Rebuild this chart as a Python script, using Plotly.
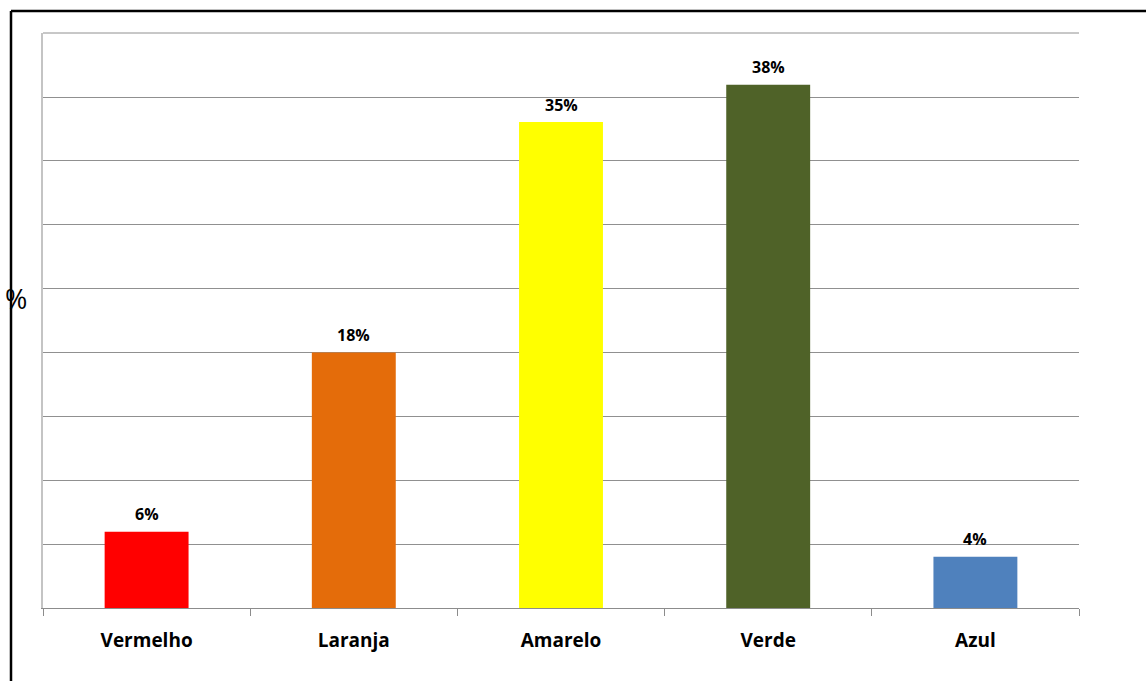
import plotly.graph_objects as go

categories = ["Vermelho", "Laranja", "Amarelo", "Verde", "Azul"]
values = [5.5, 18.4, 35.0, 37.7, 3.7]
value_labels = ["6%", "18%", "35%", "38%", "4%"]
bar_colors = ["#FF0000", "#E46C0A", "#FFFF00", "#4F6228", "#4F81BD"]

W, H = 1146, 681
L, R, T, B = 43, 67, 33, 73
plot_w = W - L - R
plot_h = H - T - B
GRID = "#909090"

fig = go.Figure()
fig.add_trace(go.Bar(
    x=categories,
    y=values,
    marker=dict(color=bar_colors, line=dict(width=0)),
    width=0.405,
    hoverinfo="x+y",
))

for c, v, lab in zip(categories, values, value_labels):
    fig.add_annotation(x=c, y=v, text=lab, showarrow=False,
                       xanchor="center", yanchor="middle", yshift=17.5,
                       font=dict(family="Open Sans", size=16, color="#000000", weight="bold"))

# top gridline (plotly skips the gridline lying exactly on the plot edge)
fig.add_shape(type="line", xref="paper", yref="paper", x0=0, x1=1, y0=1, y1=1,
              line=dict(color=GRID, width=1), layer="below")

# outer border (top and left lines, partially cropped frame)
bx = (11 - L) / plot_w
by = 1 + (T - 11) / plot_h
fig.add_shape(type="line", xref="paper", yref="paper", x0=bx, x1=2, y0=by, y1=by,
              line=dict(color="black", width=2.5))
fig.add_shape(type="line", xref="paper", yref="paper", x0=bx, x1=bx, y0=by, y1=-1,
              line=dict(color="black", width=2.5))

fig.add_annotation(text="%", xref="paper", yref="paper",
                   x=(16 - L) / plot_w, y=1 - (298 - T) / plot_h,
                   showarrow=False, font=dict(family="Open Sans", size=27, color="#000000"),
                   xanchor="center", yanchor="middle")

fig.update_layout(
    width=W, height=H,
    margin=dict(l=L, r=R, t=T, b=B, pad=0),
    paper_bgcolor="white",
    plot_bgcolor="white",
    showlegend=False,
    font=dict(family="Open Sans", color="#000000"),
    xaxis=dict(
        showgrid=False,
        showline=True, linecolor="#8c8c8c", linewidth=1,
        ticks="outside", tickson="boundaries", ticklen=7, tickcolor="#8c8c8c", tickwidth=1,
        tickfont=dict(family="Open Sans", size=19, color="#000000", weight="bold"),
        ticklabelstandoff=15,
    ),
    yaxis=dict(
        range=[0, 41.42],
        dtick=4.6,
        tick0=0,
        showgrid=True, gridcolor=GRID, gridwidth=1,
        showticklabels=False,
        zeroline=False,
        showline=True, linecolor="#c4c4c4", linewidth=1.5,
        ticks="",
    ),
)

fig.write_html("out.html")
